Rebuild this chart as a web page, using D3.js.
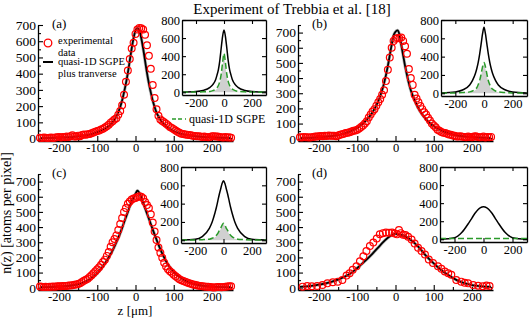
<!DOCTYPE html>
<html><head><meta charset="utf-8">
<script src="https://cdn.jsdelivr.net/npm/d3@7"></script>
<style>
body{margin:0;background:#fff}
svg{display:block}
text{font-family:"Liberation Serif","Times New Roman",serif;fill:#000}
</style>
</head><body>
<svg id="chart" width="529" height="320"></svg>
<script>
// ---------------- DATA ----------------
const title = "Experiment of Trebbia et al. [18]";
const panelLabels = ["(a)", "(b)", "(c)", "(d)"];
const xTicksMain = [-200, -100, 0, 100, 200];
const yTicksMain = [0, 100, 200, 300, 400, 500, 600, 700];
const xTicksInset = [-200, 0, 200];
const yTicksInset = [0, 200, 400, 600, 800];

// experimental data grid (μm) for panels a-c
const zGrid = d3.range(-250, 251, 5);
const expA = [5,4,6,5,3,5,7,4,6,8, 9,7,10,8,12,10,14,20,12,13, 18,15,22,25,24,27,28,32,38,42,
  46,50,56,60,68,76,85,98,106,117, 125,147,170,205,270,350,420,490,555,590,
  645,672,682,680,672,640,575,510,430,330, 250,180,141,118,108,100,92,82,72,65,
  58,50,42,36,30,28,25,23,22,20, 18,16,14,15,12,10,12,10,8,9, 14,15,12,13,10,8,6,9,7,8, 5];
const expB = [10,8,12,10,9,8,10,12,14,15, 16,18,17,20,18,22,20,19,20,16, 22,26,30,33,38,40,42,48,52,55,
  60,68,78,88,100,115,140,160,180,195, 218,240,262,290,320,380,455,535,600,645,
  660,665,662,668,645,610,560,460,400,355, 290,265,240,215,195,175,160,138,120,100,
  88,75,60,52,45,40,37,32,28,26, 22,20,15,14,16,13,12,10,14,12, 10,14,16,12,9,10,15,8,12,10, 12];
const expC = [8,6,5,6,5,7,6,8,7,9, 9,10,11,12,12,14,15,17,20,22, 25,30,38,46,52,60,70,82,95,108,
  122,135,152,170,185,210,235,270,300,321, 345,380,420,460,500,525,553,568,582,588,
  592,598,603,600,590,565,545,525,485,430, 370,315,265,230,198,165,140,122,108,98,
  85,75,65,56,50,45,40,35,30,26, 22,19,16,13,11,9,8,7,6,5, 3,2,3,4,5,3,4,6,8,10, 10];
const zD = [-243,-231,-219,-205,-191,-178,-164,-151,-139,-128,-120,-112,-102,-93,-84,-76,-67,-58,-49,-41,
  -33,-25,-17,-9,-2,4,9,14,20,26,33,42,50,59,68,77,87,98,111,120,129,138,146,159,172,181,190,203,216,228,238,246];
const expD = [7,11,10,11,18,29,36,40,51,80,95,119,141,175,208,242,275,298,325,353,
  360,364,362,364,358,352,380,360,350,347,336,318,291,264,242,219,186,163,141,125,107,95,85,51,40,32,29,18,13,10,14,11];

// quasi-1D SGPE plus transverse (main panels)
const zCurveA = [-250,-200,-160,-140,-120,-100,-80,-60,-50,-40,-35,-30,-25,-20,-15,-10,-5,0,5,10,15,20,25,30,35,40,45,50,55,60,70,80,90,100,120,140,160,200,250];
const simA = [3,6,11,17,25,40,60,100,137,195,235,285,340,405,480,555,620,665,680,665,620,555,480,405,340,285,235,195,160,137,100,77,60,46,29,19,13,7,3];
const zCurveB = [-250,-200,-160,-140,-120,-100,-80,-60,-50,-40,-30,-20,-15,-10,-5,0,5,10,15,20,25,30,35,40,50,60,70,80,90,100,120,140,160,200,250];
const simB = [4,9,20,30,47,72,112,175,220,280,365,480,550,620,680,705,715,690,620,550,480,420,365,320,255,200,160,128,102,82,55,35,22,10,4];
const zCurveC = [-250,-200,-160,-140,-120,-100,-80,-60,-50,-40,-30,-20,-10,0,5,10,20,30,40,50,60,70,80,90,100,120,140,160,200,250];
const simC = [3,7,18,30,55,95,160,245,300,360,430,500,570,620,640,625,560,490,420,350,285,225,175,135,105,62,35,20,7,3];
const zCurveD = [-250,-220,-200,-180,-160,-140,-120,-100,-80,-60,-40,-20,0,20,40,60,80,100,120,140,160,180,200,220,250];
const simD = [6,12,20,30,45,65,90,130,175,225,280,330,355,345,315,270,210,160,115,80,50,30,17,10,5];

// insets: quasi-1D SGPE plus transverse (black), quasi-1D SGPE (green dashed), grey band
const zInset = [-300,-200,-150,-100,-80,-60,-50,-40,-30,-20,-10,0,10,20,30,40,50,60,80,100,150,200,300];
const insBlackA = [2,8,20,55,85,140,190,250,350,490,620,690,620,490,350,250,190,140,85,55,20,8,2];
const insGreenA = [1,3,5,10,18,35,50,75,120,200,330,430,330,200,120,75,50,35,18,10,5,3,1];
const insGreyA  = [0,1,3,6,12,25,38,58,100,180,300,400,300,180,100,58,38,25,12,6,3,1,0];
const insBlackB = [3,14,35,90,140,215,270,340,430,540,650,720,650,540,430,340,270,215,140,90,35,14,3];
const insGreenB = [1,4,8,15,25,45,60,95,140,210,290,335,290,210,140,95,60,45,25,15,8,4,1];
const insGreyB  = [0,2,5,10,18,35,50,80,125,190,270,315,270,190,125,80,50,35,18,10,5,2,0];
const insBlackC = [2,10,40,130,200,300,360,430,500,560,620,650,620,560,500,430,360,300,200,130,40,10,2];
const insGreenC = [1,3,6,12,22,40,55,75,105,130,165,185,165,130,105,75,55,40,22,12,6,3,1];
const insGreyC  = [0,2,4,9,17,33,47,66,95,120,155,175,155,120,95,66,47,33,17,9,4,2,0];
const insBlackD = [1,18,75,185,235,285,305,325,340,350,357,360,357,350,340,325,305,285,235,185,75,18,1];
const insGreenD = [8,8,8,8,8,8,8,8,8,9,9,9,9,9,8,8,8,8,8,8,8,8,8];
const insGreyD  = [0,0,0,0,0,0,0,0,0,0,0,0,0,0,0,0,0,0,0,0,0,0,0];

const legendLabels = ["experimental", "data", "quasi-1D SGPE", "plus tranverse"];
const greenLegend = "quasi-1D SGPE";
const xLabel = "z [\u03bcm]";
const yLabel = "n(z) [atoms per pixel]";

// ---------------- DRAW ----------------
const svg = d3.select("#chart");
const RED = "#ff0000", GREEN = "#2a9a2a", GREY = "#d0d0d0";
const fmt = d => String(d);

svg.append("text").attr("x", 292).attr("y", 14).attr("text-anchor", "middle")
  .attr("font-size", 15).text(title);

function styleAxis(sel) {
  sel.selectAll("path.domain").attr("stroke", "#000").attr("stroke-width", 1.3);
  sel.selectAll(".tick line").attr("stroke", "#000").attr("stroke-width", 1.1);
}

function mainPanel(p) {
  const x = d3.scaleLinear().domain([-255, 255]).range([p.x0, p.x1]);
  const y = d3.scaleLinear().domain([-15, p.yMax]).range([p.yb, p.yt]);
  const g = svg.append("g");
  const bx = g.append("g").attr("transform", `translate(0,${p.yb})`)
    .call(d3.axisBottom(x).tickValues(xTicksMain).tickFormat(fmt).tickSizeInner(-5).tickSizeOuter(0).tickPadding(2));
  bx.selectAll("text").attr("font-size", 12.5).style("font-family", '"Liberation Serif",serif');
  styleAxis(bx);
  const bxm = g.append("g").attr("transform", `translate(0,${p.yb})`)
    .call(d3.axisBottom(x).tickValues([-250, -150, -50, 50, 150, 250]).tickFormat("").tickSizeInner(-3).tickSizeOuter(0));
  bxm.select("path.domain").remove(); styleAxis(bxm);
  const ly = g.append("g").attr("transform", `translate(${p.x0},0)`)
    .call(d3.axisLeft(y).tickValues(yTicksMain.filter(v => v <= p.yMax)).tickFormat(fmt).tickSizeInner(-5).tickSizeOuter(0).tickPadding(2));
  ly.selectAll("text").attr("font-size", 13.5).style("font-family", '"Liberation Serif",serif');
  styleAxis(ly);
  const lym = g.append("g").attr("transform", `translate(${p.x0},0)`)
    .call(d3.axisLeft(y).tickValues([50, 150, 250, 350, 450, 550, 650, 750].filter(v => v <= p.yMax)).tickFormat("").tickSizeInner(-3).tickSizeOuter(0));
  lym.select("path.domain").remove(); styleAxis(lym);

  const line = d3.line().x(d => x(d[0])).y(d => y(d[1])).curve(d3.curveMonotoneX);
  const sim = p.zs.map((z, i) => [z, p.sim[i]]);
  g.append("path").attr("d", line(sim)).attr("fill", "none").attr("stroke", "#b5b5b5").attr("stroke-width", 3.2);
  g.append("path").attr("d", line(sim)).attr("fill", "none").attr("stroke", "#000").attr("stroke-width", 1.8);
  g.append("g").selectAll("circle").data(p.ez.map((z, i) => [z, p.exp[i]])).join("circle")
    .attr("cx", d => x(d[0])).attr("cy", d => y(d[1])).attr("r", 3.4)
    .attr("fill", "none").attr("stroke", RED).attr("stroke-width", 1.2);
  g.append("text").attr("x", p.x0 + 14).attr("y", p.yt + 3).attr("font-size", 13).text(p.label);
  return {x, y, g};
}

function inset(p) {
  const x = d3.scaleLinear().domain([-300, 300]).range([p.x0, p.x1]);
  const y = d3.scaleLinear().domain([-30, 800]).range([p.yb, p.yt]);
  const g = svg.append("g");
  g.append("rect").attr("x", p.x0).attr("y", p.yt).attr("width", p.x1 - p.x0).attr("height", p.yb - p.yt)
    .attr("fill", "#fff").attr("stroke", "none");
  const area = d3.area().x(d => x(d[0])).y0(y(0)).y1(d => y(d[1])).curve(d3.curveMonotoneX);
  const line = d3.line().x(d => x(d[0])).y(d => y(d[1])).curve(d3.curveMonotoneX);
  g.append("path").attr("d", area(zInset.map((z, i) => [z, p.grey[i]]))).attr("fill", GREY);
  g.append("path").attr("d", line(zInset.map((z, i) => [z, p.black[i]]))).attr("fill", "none")
    .attr("stroke", "#000").attr("stroke-width", 1.5);
  g.append("path").attr("d", line(zInset.map((z, i) => [z, p.green[i]]))).attr("fill", "none")
    .attr("stroke", GREEN).attr("stroke-width", 1.5).attr("stroke-dasharray", "6,3");
  const bx = g.append("g").attr("transform", `translate(0,${p.yb})`)
    .call(d3.axisBottom(x).tickValues(xTicksInset).tickFormat(fmt).tickSizeInner(-4).tickSizeOuter(0).tickPadding(3));
  bx.selectAll("text").attr("font-size", 12.5).style("font-family", '"Liberation Serif",serif');
  styleAxis(bx);
  const tx = g.append("g").attr("transform", `translate(0,${p.yt})`)
    .call(d3.axisTop(x).tickValues(xTicksInset).tickFormat("").tickSizeInner(-4).tickSizeOuter(0));
  styleAxis(tx);
  const ly = g.append("g").attr("transform", `translate(${p.x0},0)`)
    .call(d3.axisLeft(y).tickValues(yTicksInset).tickFormat(fmt).tickSizeInner(-4).tickSizeOuter(0).tickPadding(2));
  ly.selectAll("text").attr("font-size", 12.5).style("font-family", '"Liberation Serif",serif');
  styleAxis(ly);
  const ry = g.append("g").attr("transform", `translate(${p.x1},0)`)
    .call(d3.axisRight(y).tickValues(yTicksInset).tickFormat("").tickSizeInner(-4).tickSizeOuter(0));
  styleAxis(ry);
  return {x, y, g};
}

mainPanel({x0: 38, x1: 233, yt: 25, yb: 141, yMax: 700, label: panelLabels[0], zs: zCurveA, sim: simA, ez: zGrid, exp: expA});
mainPanel({x0: 298, x1: 493, yt: 25, yb: 141, yMax: 750, label: panelLabels[1], zs: zCurveB, sim: simB, ez: zGrid, exp: expB});
mainPanel({x0: 38, x1: 233, yt: 174, yb: 290, yMax: 750, label: panelLabels[2], zs: zCurveC, sim: simC, ez: zGrid, exp: expC});
mainPanel({x0: 298, x1: 493, yt: 174, yb: 290, yMax: 750, label: panelLabels[3], zs: zCurveD, sim: simD, ez: zD, exp: expD});

inset({x0: 182, x1: 266, yt: 20, yb: 95, black: insBlackA, green: insGreenA, grey: insGreyA});
inset({x0: 441, x1: 527, yt: 20, yb: 96, black: insBlackB, green: insGreenB, grey: insGreyB});
inset({x0: 181, x1: 266, yt: 167, yb: 243, black: insBlackC, green: insGreenC, grey: insGreyC});
inset({x0: 440, x1: 527, yt: 167, yb: 242, black: insBlackD, green: insGreenD, grey: insGreyD});

// legend in (a)
const lg = svg.append("g");
lg.append("circle").attr("cx", 48).attr("cy", 43).attr("r", 3.8).attr("fill", "none").attr("stroke", RED).attr("stroke-width", 1.3);
lg.append("text").attr("x", 58).attr("y", 44).attr("font-size", 10.5).text(legendLabels[0]);
lg.append("text").attr("x", 58).attr("y", 55.5).attr("font-size", 10.5).text(legendLabels[1]);
lg.append("line").attr("x1", 43).attr("x2", 53).attr("y1", 62).attr("y2", 62).attr("stroke", "#000").attr("stroke-width", 2);
lg.append("text").attr("x", 58).attr("y", 65).attr("font-size", 10.5).text(legendLabels[2]);
lg.append("text").attr("x", 58).attr("y", 76.5).attr("font-size", 10.5).text(legendLabels[3]);
// green legend below inset (a)
lg.append("line").attr("x1", 172).attr("x2", 186).attr("y1", 119).attr("y2", 119)
  .attr("stroke", GREEN).attr("stroke-width", 1.5).attr("stroke-dasharray", "4,2,4,3,1.5,3");
lg.append("text").attr("x", 189).attr("y", 123).attr("font-size", 12).text(greenLegend);

// axis titles
svg.append("text").attr("x", 135).attr("y", 315).attr("text-anchor", "middle").attr("font-size", 13).text(xLabel);
svg.append("text").attr("transform", "translate(11,213) rotate(-90)").attr("text-anchor", "middle").attr("font-size", 14).text(yLabel);
</script>
</body></html>
